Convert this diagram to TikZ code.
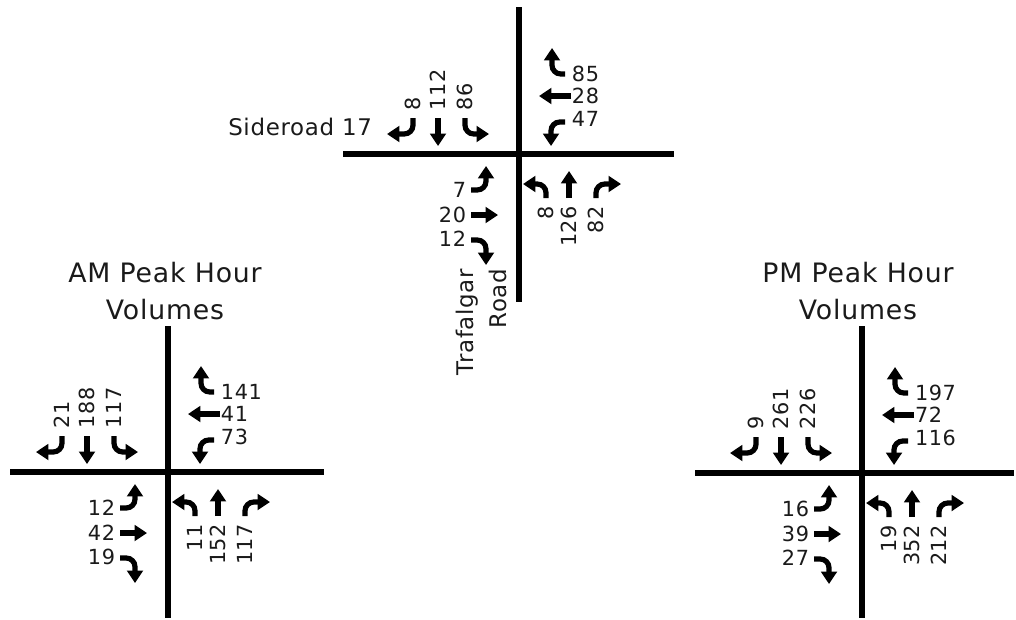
\documentclass[tikz,border=0pt]{standalone}
\usepackage{fontspec}
\setmainfont{DejaVu Sans}[LetterSpace=3]
\usetikzlibrary{arrows.meta}
\definecolor{rdblack}{HTML}{000000}
\definecolor{txtgrey}{HTML}{1A1A1A}

\begin{document}
\begin{tikzpicture}[x=0.025cm, y=0.025cm,
  road/.style={line width=0.165cm, rdblack},
  move/.style={line width=0.13cm, rdblack, rounded corners=0.22cm, -{Triangle[length=0.31cm, width=0.39cm]}},
  vol/.style={inner sep=0.5pt, font=\fontsize{14.8}{17}\selectfont, txtgrey},
  volup/.style={vol, rotate=90, anchor=west},
  voldn/.style={vol, rotate=90, anchor=east},
  peaktitle/.style={align=center, inner sep=0pt, font=\fontsize{19}{26.3}\selectfont, txtgrey},
  rdname/.style={inner sep=0.5pt, font=\fontsize{16.3}{23.5}\selectfont, txtgrey}]
  \useasboundingbox (0,0) rectangle (1016,-619);

  % Trafalgar Road / Sideroad 17
  \begin{scope}[shift={(519,-154)}]
    \draw[road] (0,147) -- (0,-148);
    \draw[road] (-176,0) -- (155,0);
    % southbound
    \draw[move] (-106,36) -- (-106,20) -- (-132,20);
    \draw[move] (-81,36) -- (-81,8);
    \draw[move] (-54,36) -- (-54,20) -- (-30,20);
    \node[volup] (tr-sbr) at (-106,43) {8};
    \node[volup] (tr-sbt) at (-81,43) {112};
    \node[volup] (tr-sbl) at (-54,43) {86};
    % westbound
    \draw[move] (46,80) -- (33,80) -- (33,106);
    \draw[move] (52,58) -- (20,58);
    \draw[move] (46,32) -- (32,32) -- (32,8);
    \node[vol, anchor=west] (tr-wbr) at (52,80) {85};
    \node[vol, anchor=west] (tr-wbt) at (52,58) {28};
    \node[vol, anchor=west] (tr-wbl) at (52,35) {47};
    % eastbound
    \draw[move] (-48,-36) -- (-33,-36) -- (-33,-12);
    \draw[move] (-48,-61) -- (-21,-61);
    \draw[move] (-48,-86) -- (-33,-86) -- (-33,-111);
    \node[vol, anchor=east] (tr-ebl) at (-52,-36) {7};
    \node[vol, anchor=east] (tr-ebt) at (-52,-61) {20};
    \node[vol, anchor=east] (tr-ebr) at (-52,-85) {12};
    % northbound
    \draw[move] (27,-44) -- (27,-30) -- (4,-30);
    \draw[move] (50,-44) -- (50,-17);
    \draw[move] (77,-44) -- (77,-30) -- (102,-30);
    \node[voldn] (tr-nbl) at (27,-51) {8};
    \node[voldn] (tr-nbt) at (50,-51) {126};
    \node[voldn] (tr-nbr) at (77,-51) {82};
  \end{scope}
  \node[rdname, anchor=east] (sideroad) at (373,-127) {Sideroad 17};
  \node[rdname, rotate=90, align=right, anchor=east] (trafalgar) at (481,-268) {Trafalgar\\Road};

  % AM peak
  \node[peaktitle] (amtitle) at (165,-291) {AM Peak Hour\\Volumes};
  \begin{scope}[shift={(168,-472)}]
    \draw[road] (0,146) -- (0,-146);
    \draw[road] (-158,0) -- (156,0);
    % southbound
    \draw[move] (-106,36) -- (-106,20) -- (-132,20);
    \draw[move] (-81,36) -- (-81,8);
    \draw[move] (-54,36) -- (-54,20) -- (-30,20);
    \node[volup] (am-sbr) at (-106,43) {21};
    \node[volup] (am-sbt) at (-81,43) {188};
    \node[volup] (am-sbl) at (-54,43) {117};
    % westbound
    \draw[move] (46,80) -- (33,80) -- (33,106);
    \draw[move] (52,58) -- (20,58);
    \draw[move] (46,32) -- (32,32) -- (32,8);
    \node[vol, anchor=west] (am-wbr) at (52,80) {141};
    \node[vol, anchor=west] (am-wbt) at (52,58) {41};
    \node[vol, anchor=west] (am-wbl) at (52,35) {73};
    % eastbound
    \draw[move] (-48,-36) -- (-33,-36) -- (-33,-12);
    \draw[move] (-48,-61) -- (-21,-61);
    \draw[move] (-48,-86) -- (-33,-86) -- (-33,-111);
    \node[vol, anchor=east] (am-ebl) at (-52,-36) {12};
    \node[vol, anchor=east] (am-ebt) at (-52,-61) {42};
    \node[vol, anchor=east] (am-ebr) at (-52,-85) {19};
    % northbound
    \draw[move] (27,-44) -- (27,-30) -- (4,-30);
    \draw[move] (50,-44) -- (50,-17);
    \draw[move] (77,-44) -- (77,-30) -- (102,-30);
    \node[voldn] (am-nbl) at (27,-51) {11};
    \node[voldn] (am-nbt) at (50,-51) {152};
    \node[voldn] (am-nbr) at (77,-51) {117};
  \end{scope}

  % PM peak
  \node[peaktitle] (pmtitle) at (858,-291) {PM Peak Hour\\Volumes};
  \begin{scope}[shift={(862,-473)}]
    \draw[road] (0,147) -- (0,-145);
    \draw[road] (-167,0) -- (152,0);
    % southbound
    \draw[move] (-106,36) -- (-106,20) -- (-132,20);
    \draw[move] (-81,36) -- (-81,8);
    \draw[move] (-54,36) -- (-54,20) -- (-30,20);
    \node[volup] (pm-sbr) at (-106,43) {9};
    \node[volup] (pm-sbt) at (-81,43) {261};
    \node[volup] (pm-sbl) at (-54,43) {226};
    % westbound
    \draw[move] (46,80) -- (33,80) -- (33,106);
    \draw[move] (52,58) -- (20,58);
    \draw[move] (46,32) -- (32,32) -- (32,8);
    \node[vol, anchor=west] (pm-wbr) at (52,80) {197};
    \node[vol, anchor=west] (pm-wbt) at (52,58) {72};
    \node[vol, anchor=west] (pm-wbl) at (52,35) {116};
    % eastbound
    \draw[move] (-48,-36) -- (-33,-36) -- (-33,-12);
    \draw[move] (-48,-61) -- (-21,-61);
    \draw[move] (-48,-86) -- (-33,-86) -- (-33,-111);
    \node[vol, anchor=east] (pm-ebl) at (-52,-36) {16};
    \node[vol, anchor=east] (pm-ebt) at (-52,-61) {39};
    \node[vol, anchor=east] (pm-ebr) at (-52,-85) {27};
    % northbound
    \draw[move] (27,-44) -- (27,-30) -- (4,-30);
    \draw[move] (50,-44) -- (50,-17);
    \draw[move] (77,-44) -- (77,-30) -- (102,-30);
    \node[voldn] (pm-nbl) at (27,-51) {19};
    \node[voldn] (pm-nbt) at (50,-51) {352};
    \node[voldn] (pm-nbr) at (77,-51) {212};
  \end{scope}
\end{tikzpicture}
\end{document}
